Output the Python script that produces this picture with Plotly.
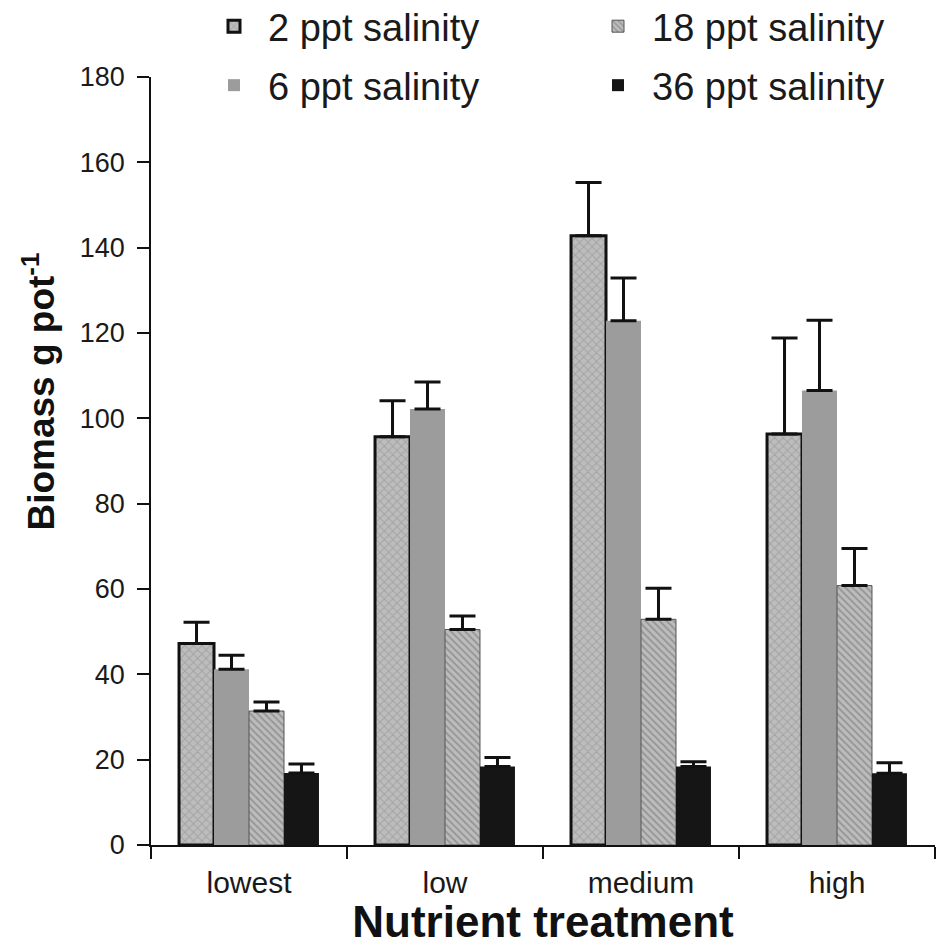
import plotly.graph_objects as go

categories = ["lowest", "low", "medium", "high"]
series_names = ["2 ppt salinity", "6 ppt salinity", "18 ppt salinity", "36 ppt salinity"]

biomass_2ppt = [47.2, 95.7, 142.8, 96.3]
biomass_6ppt = [41.2, 102.2, 122.9, 106.5]
biomass_18ppt = [31.4, 50.5, 52.9, 60.8]
biomass_36ppt = [16.9, 18.4, 18.4, 16.8]

err_2ppt = [5.0, 8.4, 12.5, 22.5]
err_6ppt = [3.3, 6.3, 10.0, 16.5]
err_18ppt = [2.1, 3.2, 7.3, 8.7]
err_36ppt = [2.1, 2.1, 1.1, 2.5]

y_ticks = [0, 20, 40, 60, 80, 100, 120, 140, 160, 180]

FONT = "Liberation Sans, Arial, sans-serif"

styles = [
    dict(color="#b4b4b4", line=dict(color="#111111", width=3),
         pattern=dict(shape="x", fgcolor="#8a8a8a", bgcolor="#bdbdbd", size=6, solidity=0.3)),
    dict(color="#9c9c9c", line=dict(color="#9c9c9c", width=0)),
    dict(color="#a8a8a8", line=dict(color="#555555", width=1),
         pattern=dict(shape="\\", fgcolor="#6e6e6e", bgcolor="#bcbcbc", size=5, solidity=0.35)),
    dict(color="#151515", line=dict(color="#151515", width=0)),
]
values = [biomass_2ppt, biomass_6ppt, biomass_18ppt, biomass_36ppt]
errors = [err_2ppt, err_6ppt, err_18ppt, err_36ppt]
legend_ids = ["legend", "legend2", "legend", "legend2"]

fig = go.Figure()
for name, vals, errs, st, lg in zip(series_names, values, errors, styles, legend_ids):
    fig.add_trace(go.Bar(
        x=categories, y=vals, name=name, marker=st, legend=lg,
        error_y=dict(type="data", array=errs, arrayminus=[0] * len(errs), symmetric=False,
                     color="#111111", thickness=3, width=13),
    ))

legend_common = dict(orientation="h", x=0.0625, xanchor="left", yanchor="top",
                     entrywidth=311, entrywidthmode="pixels",
                     font=dict(size=38, family=FONT, color="#1a1a1a"),
                     bgcolor="rgba(0,0,0,0)", itemwidth=58)

fig.update_layout(
    width=940, height=946,
    paper_bgcolor="white", plot_bgcolor="white",
    margin=dict(l=151, r=5, t=77, b=101, autoexpand=False),
    barmode="group", bargap=0.286, bargroupgap=0,
    font=dict(family=FONT, color="#1a1a1a", size=26),
    showlegend=True,
    legend=dict(y=1.1068, **legend_common),
    legend2=dict(y=1.030, **legend_common),
    xaxis=dict(range=[-0.5, 3.5], showline=True, linecolor="#111111", linewidth=1.5,
               ticks="outside", tickson="boundaries", ticklen=12, tickwidth=1.5,
               ticklabelstandoff=10,
               tickcolor="#111111", tickfont=dict(size=30, family=FONT, color="#1a1a1a"),
               showgrid=False, zeroline=False, automargin=False,
               title=dict(text="<b>Nutrient treatment</b>", font=dict(size=44, family=FONT, color="#111111"),
                          standoff=11)),
    yaxis=dict(range=[0, 180], tickvals=y_ticks, showline=True, linecolor="#111111", linewidth=1.5,
               ticks="outside", ticklen=12, tickwidth=1.5, tickcolor="#111111",
               ticklabelstandoff=7,
               tickfont=dict(size=27, family=FONT, color="#1a1a1a"),
               showgrid=False, zeroline=False, automargin=False),
    annotations=[dict(text="<b>Biomass g pot<sup>-1</sup></b>", textangle=-90,
                      xref="paper", yref="paper", x=-0.142, y=0.59,
                      xanchor="center", yanchor="middle", showarrow=False,
                      font=dict(size=37, family=FONT, color="#111111"))],
)

fig.write_html("out.html", config={"displayModeBar": False},
               post_script="document.body.style.margin='0px';")
